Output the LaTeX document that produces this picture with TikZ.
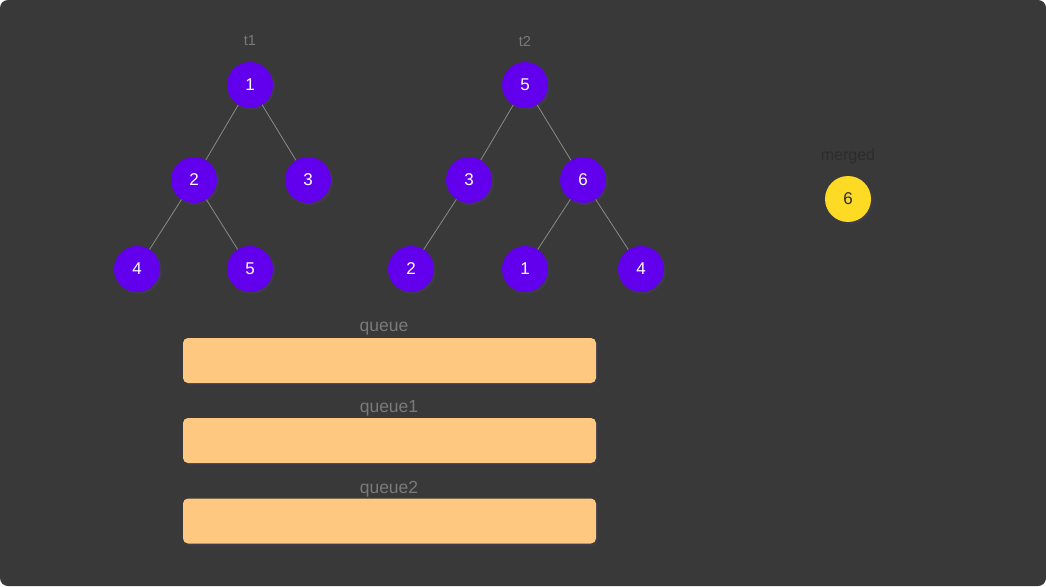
\documentclass[tikz,border=0pt]{standalone}
\usepackage{fontspec}
\setmainfont{Liberation Sans}
\definecolor{bgdark}{HTML}{393939}
\definecolor{treenode}{HTML}{6200EE}
\definecolor{mergenode}{HTML}{FDDA24}
\definecolor{queuefill}{HTML}{FFC880}
\definecolor{labelgray}{HTML}{7A7A7A}
\definecolor{edgegray}{HTML}{8A8A8A}
\definecolor{shadowc}{HTML}{403D55}
\definecolor{mergedlabel}{HTML}{2C2C2C}
\tikzset{
  tnode/.style={circle, fill=treenode, minimum size=46pt, inner sep=0pt, text=white, font=\fontsize{17pt}{17pt}\selectfont},
  mnode/.style={circle, fill=mergenode, minimum size=46pt, inner sep=0pt, text=mergedlabel, font=\fontsize{17pt}{17pt}\selectfont},
  shadowdot/.style={circle, fill=shadowc, minimum size=46pt, inner sep=0pt},
  tlabel/.style={text=labelgray, font=\fontsize{14.5pt}{14.5pt}\selectfont},
  mlabel/.style={text=mergedlabel, font=\fontsize{16pt}{16pt}\selectfont},
  qlabel/.style={text=labelgray, font=\fontsize{17.5pt}{17.5pt}\selectfont},
  qbox/.style={fill=queuefill, rounded corners=5pt, minimum width=413pt, minimum height=45pt, inner sep=0pt},
  qshadow/.style={fill=shadowc, rounded corners=5pt, minimum width=413pt, minimum height=45pt, inner sep=0pt},
  edge/.style={draw=edgegray, line width=0.8pt}
}
\begin{document}
\begin{tikzpicture}[x=1pt, y=-1pt]
\useasboundingbox (0,0) rectangle (1046,586);
\fill[white] (0,0) rectangle (1046,586);
\fill[bgdark, rounded corners=8pt] (0,0) rectangle (1046,586);

% shadows
\foreach \px/\py [count=\i] in {250/85,194/180,308/180,137/269,250/269,525/85,469/180,583/180,411/269,525/269,641/269,848/199}{
  \node[shadowdot, opacity=0.6] (sh\i) at (\px+2,\py+2) {};
}
\foreach \qy [count=\i] in {360.5,440.5,521}{
  \node[qshadow, opacity=0.6] (qsh\i) at (391.5,\qy+2) {};
}

% tree t1
\node[tlabel] (lt1) at (250,41) {t1};
\node[tnode] (a1) at (250,85) {1};
\node[tnode] (a2) at (194,180) {2};
\node[tnode] (a3) at (308,180) {3};
\node[tnode] (a4) at (137,269) {4};
\node[tnode] (a5) at (250,269) {5};
\draw[edge] (a1) -- (a2);
\draw[edge] (a1) -- (a3);
\draw[edge] (a2) -- (a4);
\draw[edge] (a2) -- (a5);

% tree t2
\node[tlabel] (lt2) at (525,41) {t2};
\node[tnode] (b5) at (525,85) {5};
\node[tnode] (b3) at (469,180) {3};
\node[tnode] (b6) at (583,180) {6};
\node[tnode] (b2) at (411,269) {2};
\node[tnode] (b1) at (525,269) {1};
\node[tnode] (b4) at (641,269) {4};
\draw[edge] (b5) -- (b3);
\draw[edge] (b5) -- (b6);
\draw[edge] (b3) -- (b2);
\draw[edge] (b6) -- (b1);
\draw[edge] (b6) -- (b4);

% merged
\node[mlabel] (lm) at (848,156) {merged};
\node[mnode] (m6) at (848,199) {6};

% queues
\node[qlabel] (lq) at (384,329) {queue};
\node[qbox] (q) at (389.5,360.5) {};
\node[qlabel] (lq1) at (389,408.5) {queue1};
\node[qbox] (q1) at (389.5,440.5) {};
\node[qlabel] (lq2) at (389,489.5) {queue2};
\node[qbox] (q2) at (389.5,521) {};
\end{tikzpicture}
\end{document}
